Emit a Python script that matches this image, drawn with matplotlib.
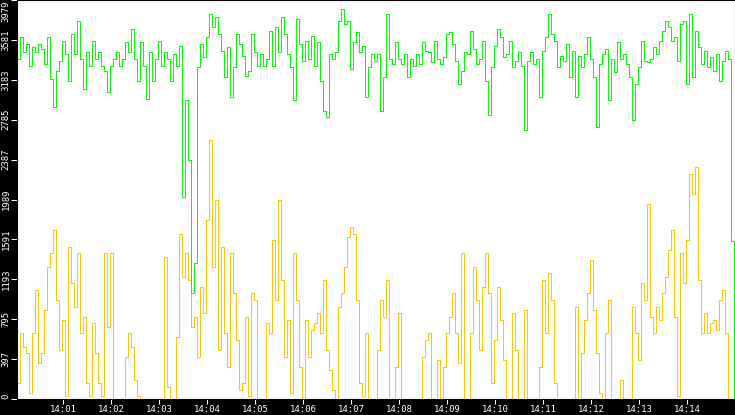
import numpy as np
import pandas as pd
import matplotlib
matplotlib.use('Agg')
import matplotlib.pyplot as plt

# values, one every 3.75 s, in four quarter-strips
green_1 = [3392, 3607, 3458, 3541, 3325, 3508, 3458, 3541, 3491, 3342,
           3607, 3193, 2911, 3275, 3375, 3574, 3441, 3176, 3640, 3441,
           3773, 3392, 3093, 3458, 3325, 3574, 3392, 3458, 3325, 3275,
           3060, 3325, 3392, 3458, 3325, 3392, 3557, 3458, 3690, 3392,
           3176, 3557, 3325, 2993, 3458, 3176, 3392, 3574, 3325, 3458,
           3392, 3176, 3441, 3325, 3524, 2015, 2977, 2380, 1053, 1352]
green_2 = [3309, 3541, 3408, 3607, 3839, 3707, 3806, 3640, 3474, 3209,
           3508, 3010, 3309, 3640, 3541, 3425, 3226, 3275, 3640, 3458,
           3325, 3441, 3325, 3392, 3673, 3325, 3707, 3458, 3806, 3640,
           3441, 3309, 2977, 3790, 3541, 3375, 3574, 3392, 3624, 3325,
           3557, 3176, 2877, 2811, 3441, 3392, 3458, 3773, 3889, 3740,
           3773, 3292, 3557, 3657, 3458, 3524, 3010, 3309, 3441, 3375]
green_3 = [3441, 2877, 3209, 3839, 3392, 3342, 3557, 3392, 3342, 3441,
           3209, 3392, 3325, 3441, 3342, 3557, 3474, 3458, 3358, 3574,
           3392, 3342, 3408, 3640, 3657, 3541, 3375, 3143, 3275, 3458,
           3441, 3673, 3491, 3342, 3392, 3574, 3176, 2828, 3309, 3524,
           3690, 3607, 3408, 3441, 3574, 3309, 3375, 3458, 3325, 2678,
           3375, 3458, 3342, 3392, 3010, 3474, 3607, 3839, 3640, 3574]
green_4 = [3309, 3425, 3375, 3541, 3209, 3474, 3010, 3425, 3309, 3441,
           3607, 3392, 3209, 2712, 3342, 3441, 3491, 2977, 3392, 3259,
           3557, 3392, 3441, 3342, 3209, 2778, 3143, 3309, 3574, 3375,
           3358, 3392, 3508, 3441, 3574, 3673, 3773, 3707, 3574, 3607,
           3375, 3740, 3773, 3143, 3839, 3209, 3673, 3508, 3342, 3474,
           3309, 3408, 3275, 3441, 3176, 3375, 3474, 3392, 1580, 0]

yellow_1 = [157, 655, 522, 456, 58, 655, 1086, 356, 456, 887,
            1318, 1451, 1683, 987, 489, 788, 25, 1517, 1153, 920,
            1451, 655, 821, 157, 25, 754, 456, 157, 25, 1451,
            721, 1451, 0, 0, 0, 0, 422, 655, 522, 191,
            25, 0, 0, 0, 0, 0, 0, 0, 0, 1418,
            124, 0, 0, 622, 1650, 1219, 1451, 1186, 721, 821]
yellow_2 = [422, 1119, 854, 1783, 2579, 1318, 1982, 489, 1517, 655,
            323, 1451, 1053, 589, 91, 157, 821, 25, 1053, 987,
            0, 0, 0, 754, 655, 1584, 987, 1982, 1186, 422,
            788, 58, 1451, 987, 323, 0, 788, 422, 688, 754,
            854, 655, 1186, 489, 290, 91, 0, 920, 1053, 1318,
            1617, 1716, 1650, 987, 157, 25, 655, 0, 0, 0]
yellow_3 = [489, 987, 821, 1186, 0, 0, 323, 854, 0, 0,
            0, 0, 0, 0, 0, 422, 589, 655, 0, 0,
            390, 0, 323, 655, 821, 1053, 655, 356, 1451, 0,
            0, 655, 1318, 987, 489, 1119, 1451, 1053, 157, 589,
            1119, 788, 390, 0, 0, 854, 489, 0, 0, 887,
            0, 0, 0, 0, 323, 1186, 655, 1252, 987, 157]
yellow_4 = [0, 0, 0, 0, 0, 0, 920, 0, 456, 788,
            1053, 1385, 887, 456, 58, 0, 655, 987, 0, 0,
            0, 191, 0, 0, 0, 920, 655, 390, 1153, 987,
            1949, 821, 655, 920, 788, 1053, 1219, 1484, 1683, 821,
            25, 1451, 1153, 1584, 2247, 2048, 2313, 1186, 655, 854,
            655, 754, 788, 688, 987, 1086, 655, 0, 0, 0]

green = green_1 + green_2 + green_3 + green_4
yellow = yellow_1 + yellow_2 + yellow_3 + yellow_4

y_max = 3979
y_labels = ['0', '397', '795', '1193', '1591', '1989',
            '2387', '2785', '3183', '3581', '3979']
x_labels = ['14:01', '14:02', '14:03', '14:04', '14:05', '14:06', '14:07',
            '14:08', '14:09', '14:10', '14:11', '14:12', '14:13', '14:14']

start = pd.Timestamp('2024-01-01 14:00:02.500')
end = pd.Timestamp('2024-01-01 14:15:00')
times = start + pd.to_timedelta(np.arange(len(green)) * 3.75, unit='s')

fig = plt.figure(figsize=(7.35, 4.15), dpi=100, facecolor='black')
ax = fig.add_axes([17 / 735, 16 / 415, 718 / 735, 399 / 415])
ax.set_facecolor('white')

ax.plot(times, yellow, drawstyle='steps-post', color='#ffc800',
        lw=0.72, antialiased=False)
ax.plot(times, green, drawstyle='steps-post', color='#00ff00',
        lw=0.72, antialiased=False)

ax.set_xlim(start, end)
ax.set_ylim(0, y_max)

ax.set_yticks([y_max * i / 10 for i in range(11)])
ax.set_yticklabels(y_labels, rotation=90, family='DejaVu Sans Mono',
                   fontsize=6.5, color='white')
labels = ax.get_yticklabels()
labels[0].set_va('bottom')
labels[-1].set_va('top')
for lb in labels[1:-1]:
    lb.set_va('center')

tick_times = [pd.Timestamp('2024-01-01 ' + s) for s in x_labels]
ax.set_xticks(tick_times)
ax.set_xticklabels(x_labels, family='DejaVu Sans Mono', fontsize=6.5,
                   color='white')

ax.tick_params(axis='x', colors='white', length=3.6, width=0.75, pad=0.8)
ax.tick_params(axis='y', colors='white', length=4.3, width=0.75, pad=0.4)
for sp in ax.spines.values():
    sp.set_color('black')

fig.savefig('out.png', dpi=100, facecolor='black')
